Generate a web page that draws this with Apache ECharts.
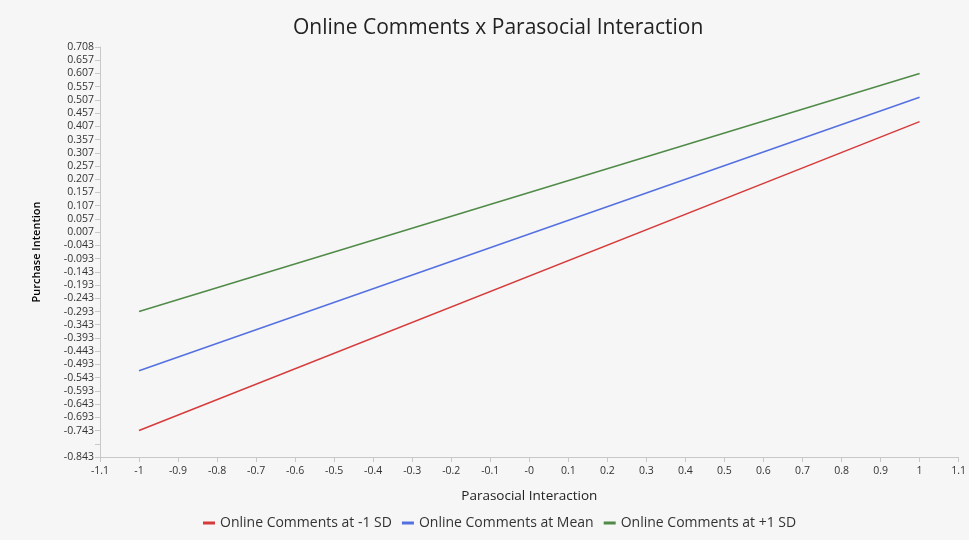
<!DOCTYPE html>
<html>
<head>
<meta charset="utf-8">
<title>Online Comments x Parasocial Interaction</title>
<script src="https://cdn.jsdelivr.net/npm/echarts@6/dist/echarts.min.js"></script>
<style>
html, body { margin: 0; padding: 0; background: #ffffff; }
#main { width: 969px; height: 540px; }
</style>
</head>
<body>
<div id="main"></div>
<script>
// x values of the two end points
var xPoints = [-1, 1]
// simple slopes
var lowSD = [-0.743, 0.425]
var meanSD = [-0.517, 0.517]
var highSD = [-0.293, 0.607]
var seriesNames = ["Online Comments at -1 SD", "Online Comments at Mean", "Online Comments at +1 SD"]

// tick labels, bottom to top / left to right
var yTickLabels = ["-0.843", "", "-0.743", "-0.693", "-0.643", "-0.593", "-0.543", "-0.493", "-0.443", "-0.393",
    "-0.343", "-0.293", "-0.243", "-0.193", "-0.143", "-0.093", "-0.043", "0.007", "0.057", "0.107",
    "0.157", "0.207", "0.257", "0.307", "0.357", "0.407", "0.457", "0.507", "0.557", "0.607", "0.657", "0.708"]
var xTickLabels = ["-1.1", "-1", "-0.9", "-0.8", "-0.7", "-0.6", "-0.5", "-0.4", "-0.3", "-0.2", "-0.1",
    "-0", "0.1", "0.2", "0.3", "0.4", "0.5", "0.6", "0.7", "0.8", "0.9", "1", "1.1"]

var colors = ["#d63b3b", "#5470e0", "#4f8a47"]

function pairs(ys) {
    return xPoints.map(function(x, i) { return [x, ys[i]] })
}

var chart = echarts.init(document.getElementById("main"))
var fontFamily = "'Open Sans', 'Noto Sans', sans-serif"
var option = {
    backgroundColor: "#f6f6f6",
    animation: false,
    color: colors,
    textStyle: { fontFamily: fontFamily },
    title: {
        text: "Online Comments x Parasocial Interaction",
        left: 288,
        top: 13,
        textStyle: { fontSize: 21, fontWeight: "normal", color: "#222", fontFamily: fontFamily }
    },
    legend: {
        bottom: 5,
        left: 198,
        itemWidth: 12,
        itemHeight: 3,
        itemGap: 10,
        icon: "rect",
        textStyle: { fontSize: 14, color: "#333" },
        data: seriesNames
    },
    grid: { left: 100, right: 7, top: 47, bottom: 83, containLabel: false },
    xAxis: {
        type: "value",
        min: -1.1,
        max: 1.1,
        interval: 0.1,
        name: "Parasocial Interaction",
        nameLocation: "middle",
        nameGap: 32,
        nameTextStyle: { fontSize: 13.5, color: "#222" },
        axisLine: { onZero: false, lineStyle: { color: "#c8c8c8" } },
        axisTick: { length: 5, lineStyle: { color: "#c8c8c8" } },
        axisLabel: {
            fontSize: 10.5, color: "#333", margin: 9, showMinLabel: true, showMaxLabel: true,
            formatter: function(v, i) { return xTickLabels[i] }
        },
        splitLine: { show: false }
    },
    yAxis: {
        type: "value",
        min: -0.843,
        max: 0.707,
        interval: 0.05,
        name: "Purchase Intention",
        nameLocation: "middle",
        nameGap: 58,
        nameTextStyle: { fontSize: 11, color: "#000", fontWeight: 600 },
        axisLine: { show: true, onZero: false, lineStyle: { color: "#c8c8c8" } },
        axisTick: { show: true, length: 5, lineStyle: { color: "#c8c8c8" } },
        axisLabel: {
            fontSize: 10.5, color: "#333", margin: 6, showMinLabel: true, showMaxLabel: true,
            formatter: function(v, i) { return yTickLabels[i] }
        },
        splitLine: { show: false }
    },
    series: [
        { name: seriesNames[0], type: "line", data: pairs(lowSD), symbol: "none", lineStyle: { width: 1.5 } },
        { name: seriesNames[1], type: "line", data: pairs(meanSD), symbol: "none", lineStyle: { width: 1.5 } },
        { name: seriesNames[2], type: "line", data: pairs(highSD), symbol: "none", lineStyle: { width: 1.5 } }
    ]
}
chart.setOption(option)
</script>
</body>
</html>
